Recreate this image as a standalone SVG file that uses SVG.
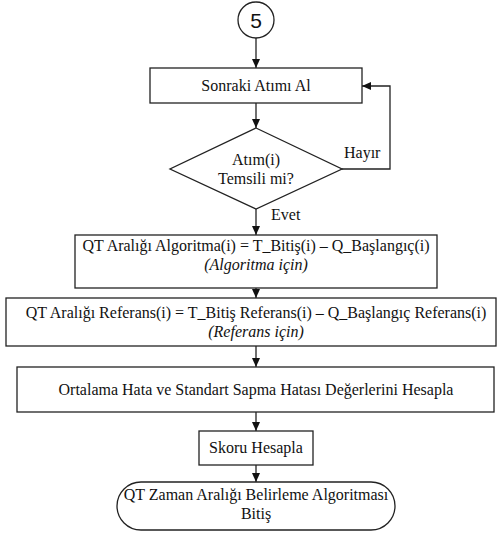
<svg xmlns="http://www.w3.org/2000/svg" width="499" height="533" viewBox="0 0 499 533">
  <style>
    .shape { fill: #ffffff; stroke: #222222; stroke-width: 1.3; }
    .link { fill: none; stroke: #222222; stroke-width: 1.3; }
    .t { font-family: "Liberation Serif", "Times New Roman", serif; font-size: 16px; fill: #111111; text-anchor: middle; }
    .it { font-style: italic; }
    .lbl { font-family: "Liberation Serif", "Times New Roman", serif; font-size: 16px; fill: #111111; }
  </style>
  <defs>
    <marker id="arrow" markerUnits="userSpaceOnUse" markerWidth="10" markerHeight="8" refX="9" refY="4" orient="auto">
      <path d="M0,0 L9,4 L0,8 Z" fill="#111111"/>
    </marker>
  </defs>
  <rect width="499" height="533" fill="#ffffff"/>

  <!-- connectors -->
  <g id="connectors">
    <line class="link" x1="256" y1="38" x2="256" y2="68" marker-end="url(#arrow)"/>
    <line class="link" x1="256" y1="103" x2="256" y2="128" marker-end="url(#arrow)"/>
    <polyline class="link" points="342,169 390,169 390,86 362,86" marker-end="url(#arrow)"/>
    <line class="link" x1="256" y1="209" x2="256" y2="235" marker-end="url(#arrow)"/>
    <line class="link" x1="256" y1="288" x2="256" y2="298" marker-end="url(#arrow)"/>
    <line class="link" x1="256" y1="346" x2="256" y2="367" marker-end="url(#arrow)"/>
    <line class="link" x1="256" y1="412" x2="256" y2="431" marker-end="url(#arrow)"/>
    <line class="link" x1="256" y1="465" x2="256" y2="482" marker-end="url(#arrow)"/>
    <text class="lbl" x="344" y="158">Hayır</text>
    <text class="lbl" x="271" y="220">Evet</text>
  </g>

  <!-- off-page connector 5 -->
  <g id="node-connector5">
    <circle class="shape" cx="256" cy="20" r="18"/>
    <text x="256" y="27.5" font-family="Liberation Sans, Arial, sans-serif" font-size="21" text-anchor="middle" fill="#111111">5</text>
  </g>

  <g id="node-next-beat">
    <rect class="shape" x="150" y="68" width="212" height="35"/>
    <text class="t" x="256" y="91">Sonraki Atımı Al</text>
  </g>

  <g id="node-decision">
    <polygon class="shape" points="256,128 342,169 256,209 170,169"/>
    <text class="t" x="256" y="165">Atım(i)</text>
    <text class="t" x="256" y="184">Temsili mi?</text>
  </g>

  <g id="node-qt-algorithm">
    <rect class="shape" x="75" y="235" width="362" height="53"/>
    <text class="t" x="256" y="251">QT Aralığı Algoritma(i) = T_Bitiş(i) – Q_Başlangıç(i)</text>
    <text class="t it" x="256" y="270">(Algoritma için)</text>
  </g>

  <g id="node-qt-reference">
    <rect class="shape" x="6" y="298" width="490" height="48"/>
    <text class="t" x="256" y="318">QT Aralığı Referans(i) = T_Bitiş Referans(i) – Q_Başlangıç Referans(i)</text>
    <text class="t it" x="256" y="337">(Referans için)</text>
  </g>

  <g id="node-errors">
    <rect class="shape" x="17" y="367" width="477" height="45"/>
    <text class="t" x="256" y="395">Ortalama Hata ve Standart Sapma Hatası Değerlerini Hesapla</text>
  </g>

  <g id="node-score">
    <rect class="shape" x="199" y="431" width="114" height="34"/>
    <text class="t" x="256" y="453">Skoru Hesapla</text>
  </g>

  <g id="node-end">
    <rect class="shape" x="117" y="482" width="278" height="48" rx="24" ry="24"/>
    <text class="t" x="256" y="500">QT Zaman Aralığı Belirleme Algoritması</text>
    <text class="t" x="256" y="519">Bitiş</text>
  </g>
</svg>
